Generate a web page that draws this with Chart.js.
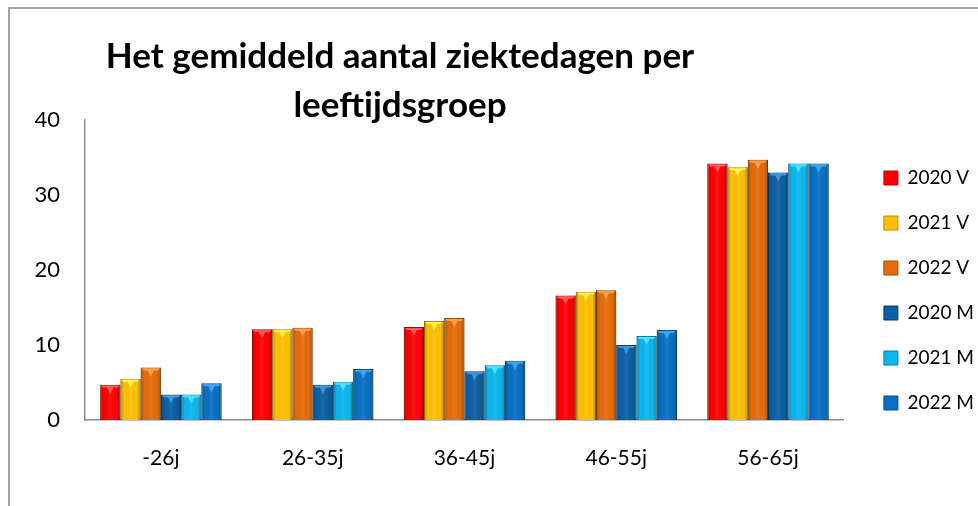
<!DOCTYPE html>
<html>
<head>
<meta charset="utf-8">
<script src="https://cdn.jsdelivr.net/npm/chart.js@4"></script>
<style>
  html, body { margin: 0; padding: 0; background: #fff; }
  #wrap { position: relative; width: 978px; height: 506px; overflow: hidden; }
  #kader { position: absolute; left: 8px; top: 7px; width: 1000px; height: 600px;
           border-top: 2px solid #a3a3a3; border-left: 2px solid #a3a3a3; }
  #grafiek { position: absolute; left: 0; top: 0; }
</style>
</head>
<body>
<div id="wrap">
  <div id="kader"></div>
  <canvas id="grafiek" width="978" height="506"></canvas>
</div>
<script>
// Gemiddeld aantal ziektedagen per leeftijdsgroep (V = vrouwen, M = mannen)
const leeftijdsgroepen = ['-26j', '26-35j', '36-45j', '46-55j', '56-65j'];

const v2020 = [4.7, 12.1, 12.4, 16.6, 34.2];
const v2021 = [5.5, 12.1, 13.2, 17.1, 33.7];
const v2022 = [7.0, 12.3, 13.6, 17.3, 34.7];
const m2020 = [3.4, 4.7, 6.5, 10.0, 33.0];
const m2021 = [3.4, 5.1, 7.3, 11.2, 34.2];
const m2022 = [4.9, 6.8, 7.9, 12.0, 34.2];

const yTicks = [0, 10, 20, 30, 40];

const titelRegels = ['Het gemiddeld aantal ziektedagen per', 'leeftijdsgroep'];

// kleuren: vlak, rand, lichte bovenkant
const reeksen = [
  { label: '2020 V', data: v2020, kleur: '#fe0000', rand: '#b30000', licht: '#ff5a5a' },
  { label: '2021 V', data: v2021, kleur: '#ffc000', rand: '#b88a00', licht: '#fff04a' },
  { label: '2022 V', data: v2022, kleur: '#e46c0a', rand: '#9c4a06', licht: '#f7a04a' },
  { label: '2020 M', data: m2020, kleur: '#0b5ea3', rand: '#063f70', licht: '#3d95e0' },
  { label: '2021 M', data: m2021, kleur: '#0cb6ee', rand: '#0780a8', licht: '#4de0ff' },
  { label: '2022 M', data: m2022, kleur: '#0870c2', rand: '#054d87', licht: '#3fa3f0' }
];

// Plugin: titel op vaste plek, links van het midden (zoals in Excel)
const titelPlugin = {
  id: 'titel',
  afterDraw(chart) {
    const ctx = chart.ctx;
    ctx.save();
    ctx.fillStyle = '#000';
    ctx.font = 'bold 35px Lato';
    ctx.textAlign = 'center';
    ctx.textBaseline = 'middle';
    ctx.fillText(titelRegels[0], 400, 57);
    ctx.fillText(titelRegels[1], 400, 106);
    ctx.restore();
  }
};

// Plugin: beetje 3D-effect op de staven
const reliefPlugin = {
  id: 'relief',
  afterDatasetsDraw(chart) {
    const ctx = chart.ctx;
    chart.data.datasets.forEach((ds, i) => {
      chart.getDatasetMeta(i).data.forEach(bar => {
        const { x, y, base, width } = bar.getProps(['x', 'y', 'base', 'width'], true);
        const l = x - width / 2, r = x + width / 2;
        const g = ctx.createLinearGradient(l, 0, r, 0);
        g.addColorStop(0, 'rgba(0,0,0,0.28)');
        g.addColorStop(0.18, 'rgba(0,0,0,0)');
        g.addColorStop(0.5, 'rgba(255,255,255,0.08)');
        g.addColorStop(0.82, 'rgba(0,0,0,0)');
        g.addColorStop(1, 'rgba(0,0,0,0.32)');
        ctx.save();
        ctx.fillStyle = g;
        ctx.fillRect(l, y, width, base - y);
        // lichte rand bovenaan met driehoekje
        ctx.fillStyle = ds.licht;
        ctx.beginPath();
        ctx.moveTo(l + 1, y + 1);
        ctx.lineTo(r - 1, y + 1);
        ctx.lineTo(r - 3, y + 3);
        ctx.lineTo(x + 3, y + 3);
        ctx.lineTo(x, y + 9);
        ctx.lineTo(x - 3, y + 3);
        ctx.lineTo(l + 3, y + 3);
        ctx.closePath();
        ctx.fill();
        ctx.restore();
      });
    });
  }
};

// Plugin: legenda iets naar rechts en omhoog schuiven
const legendaPlugin = {
  id: 'legendaSchuif',
  afterLayout(chart) {
    chart.legend.left += 14;
    chart.legend.right += 14;
    chart.legend.top -= 11;
    chart.legend.bottom -= 11;
  }
};

new Chart(document.getElementById('grafiek').getContext('2d'), {
  type: 'bar',
  data: {
    labels: leeftijdsgroepen,
    datasets: reeksen.map(r => ({
      label: r.label,
      data: r.data,
      backgroundColor: r.kleur,
      borderColor: r.rand,
      borderWidth: 1,
      licht: r.licht,
      categoryPercentage: 0.8,
      barPercentage: 1.0
    }))
  },
  options: {
    responsive: false,
    animation: false,
    layout: { padding: { top: 120, bottom: 23, left: 0, right: 8 } },
    plugins: {
      title: { display: false },
      tooltip: { enabled: false },
      legend: {
        position: 'right',
        labels: {
          boxWidth: 14,
          boxHeight: 14,
          padding: 26,
          color: '#000',
          font: { family: 'Lato', size: 19 }
        }
      }
    },
    scales: {
      x: {
        afterFit: s => { s.height = 63; },
        grid: { display: false, drawTicks: false },
        border: { display: true, color: '#8c8c8c', width: 1.5 },
        ticks: { color: '#000', padding: 26, font: { family: 'Lato', size: 21 } }
      },
      y: {
        min: 0,
        max: 40,
        afterFit: s => { s.width = 85; },
        afterBuildTicks: s => { s.ticks = yTicks.map(v => ({ value: v })); },
        grid: { display: false, drawTicks: false },
        border: { display: true, color: '#8c8c8c', width: 1.5 },
        ticks: { color: '#000', padding: 25, font: { family: 'Lato', size: 22 } }
      }
    }
  },
  plugins: [titelPlugin, reliefPlugin, legendaPlugin]
});
</script>
</body>
</html>
